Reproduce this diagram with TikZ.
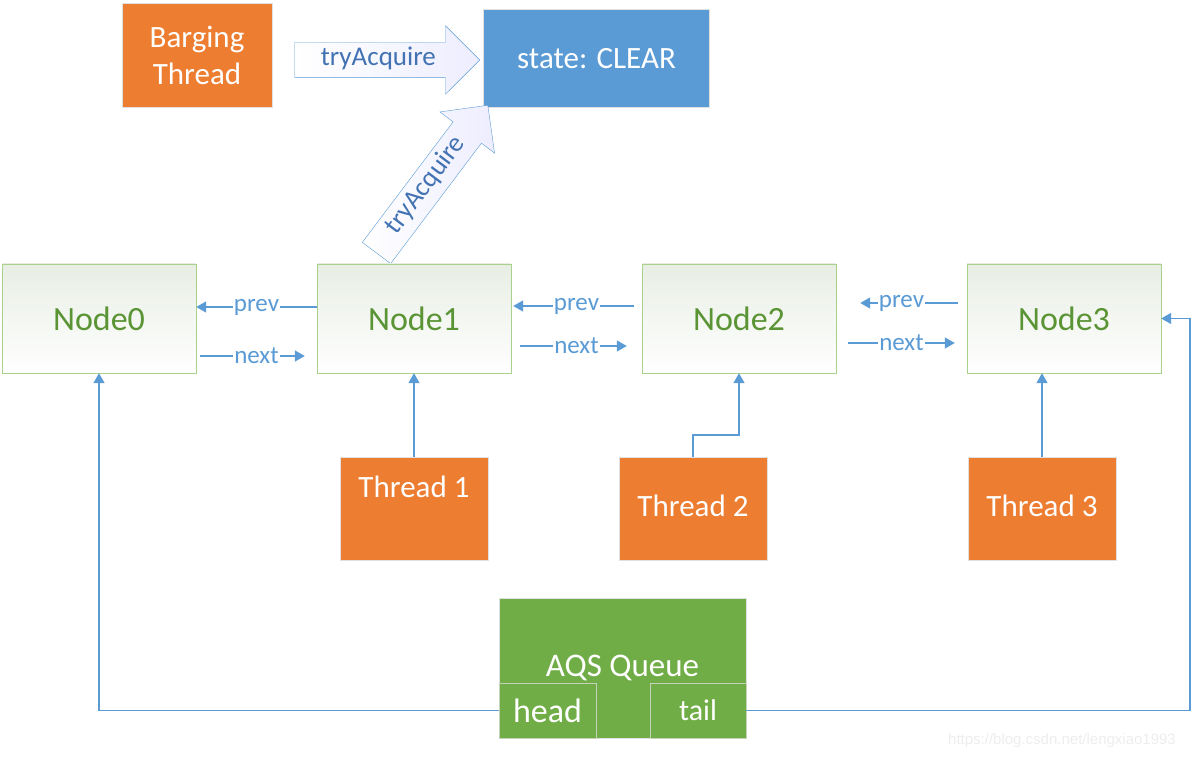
\documentclass[tikz,border=0pt]{standalone}
\usepackage{fontspec}
\setmainfont{Carlito}
\newfontfamily\markfont{Liberation Sans}
\usetikzlibrary{arrows.meta,shapes.arrows}
\definecolor{boxorange}{RGB}{237,125,49}
\definecolor{boxblue}{RGB}{91,155,213}
\definecolor{boxgreen}{RGB}{112,173,71}
\definecolor{linkblue}{RGB}{91,155,213}
\definecolor{arrowtext}{RGB}{66,114,178}
\definecolor{nodeborder}{RGB}{169,209,142}
\definecolor{nodeshade}{RGB}{232,238,228}
\definecolor{nodetext}{RGB}{90,148,52}
\definecolor{subline}{RGB}{196,210,186}
\begin{document}
\begin{tikzpicture}[x=1pt, y=-1pt,
  thread/.style={draw=black!12, fill=boxorange, text=white, minimum width=148pt, minimum height=103pt, inner sep=0pt, text height=22pt, text depth=6pt, font=\fontsize{31}{36}\selectfont},
  listnode/.style={draw=nodeborder, top color=nodeshade, bottom color=white, text=nodetext, minimum width=194pt, minimum height=109pt, inner sep=0pt, font=\fontsize{34}{40}\selectfont},
  subbox/.style={draw=subline, fill=boxgreen, text=white, minimum height=55pt, inner sep=0pt},
  tryarrow/.style={single arrow, draw=linkblue, left color=white, right color=blue!7, text=arrowtext, minimum height=185pt, minimum width=68pt, single arrow head extend=16.5pt, inner xsep=4pt, inner ysep=8pt, text height=15pt, text depth=4pt, anchor=tip, font=\fontsize{27}{32}\selectfont},
  link/.style={draw=linkblue, line width=1.6pt, -{Triangle[length=10pt,width=11pt]}},
  lbl/.style={fill=white, inner sep=1pt, text=linkblue, font=\fontsize{25}{30}\selectfont}]
\useasboundingbox (0,0) rectangle (1192,759);
\node[draw=black!12, fill=boxorange, text=white, minimum width=150pt, minimum height=104pt, align=center, font=\fontsize{31}{37}\selectfont] (Barging) at (197,55) {Barging\\Thread};
\node[draw=black!12, fill=boxblue, text=white, minimum width=226pt, minimum height=98pt, font=\fontsize{31}{36}\selectfont] (State) at (596.5,58.5) {state: CLEAR};
\node[tryarrow] (TryBarging) at (480,60) {tryAcquire};
\node[tryarrow, rotate=53] (TryQueued) at (488,105) {tryAcquire};
\node[listnode] (Node0) at (99,318.5) {Node0};
\node[listnode] (Node1) at (414,318.5) {Node1};
\node[listnode] (Node2) at (739,318.5) {Node2};
\node[listnode] (Node3) at (1064,318.5) {Node3};
\node[thread] (Thread1) at (414,508.5) {\raisebox{19pt}[22pt][6pt]{Thread 1}};
\node[thread] (Thread2) at (693,508.5) {Thread 2};
\node[thread] (Thread3) at (1042,508.5) {Thread 3};
\node[draw=black!12, fill=boxgreen, text=white, minimum width=247pt, minimum height=140pt, inner sep=0pt, font=\fontsize{33}{38}\selectfont] (Queue) at (622.5,668) {AQS Queue};
\node[subbox, minimum width=97pt, font=\fontsize{34}{40}\selectfont] (Head) at (547.5,710.5) {head};
\node[subbox, minimum width=96pt, font=\fontsize{30}{36}\selectfont] (Tail) at (698,710.5) {tail};
\node[font=\markfont\fontsize{15}{18}\selectfont, text=black!7, inner sep=0pt] (Mark) at (1062,741) {https://blog.csdn.net/lengxiao1993};
\coordinate (TailTurn) at (1190,710.5);
\draw[link] ([yshift=11.5pt]Node1.west) -- node[lbl]{prev} ([yshift=11.5pt]Node0.east);
\draw[link, shorten <=4pt, shorten >=12pt] ([yshift=-37.5pt]Node0.east) -- node[lbl]{next} ([yshift=-37.5pt]Node1.west);
\draw[link, shorten <=8pt, shorten >=2pt] ([yshift=12.5pt]Node2.west) -- node[lbl]{prev} ([yshift=12.5pt]Node1.east);
\draw[link, shorten <=9pt, shorten >=15pt] ([yshift=-27.5pt]Node1.east) -- node[lbl]{next} ([yshift=-27.5pt]Node2.west);
\draw[link, shorten <=9pt, shorten >=24pt] ([yshift=15.5pt]Node3.west) -- node[lbl]{prev} ([yshift=15.5pt]Node2.east);
\draw[link, shorten <=12pt, shorten >=12pt] ([yshift=-24.5pt]Node2.east) -- node[lbl]{next} ([yshift=-24.5pt]Node3.west);
\draw[link] (Thread1.north) -- (Thread1.north |- Node1.south);
\draw[link] (Thread2.north) -- ++(0,-22) -| (Node2.south);
\draw[link] (Thread3.north) -- (Thread3.north |- Node3.south);
\draw[link] (Head.west) -| (Node0.south);
\draw[link] (Tail.east) -- (TailTurn) |- (Node3.east);
\end{tikzpicture}
\end{document}
